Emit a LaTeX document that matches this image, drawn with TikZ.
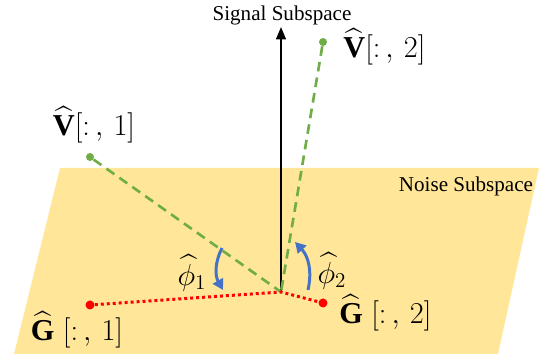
\documentclass[tikz,border=0pt]{standalone}
\usepackage{amsmath,amssymb}
\usepackage{fontspec}
\setmainfont{Liberation Serif}
\usepackage{tikz}
\usetikzlibrary{arrows.meta, positioning}

\definecolor{planeyellow}{HTML}{FFE699}
\definecolor{vgreen}{HTML}{70AD47}
\definecolor{angblue}{HTML}{4472C4}

\begin{document}
\begin{tikzpicture}[
    x=0.02cm, y=0.02cm,
    vdash/.style={vgreen, line width=1.5pt, dash pattern=on 5.5pt off 3.5pt},
    gdot/.style={red, line width=1.7pt, dash pattern=on 1.7pt off 1.7pt},
    angarr/.style={-{Triangle[length=6pt, width=6.5pt]}, angblue, line width=1.7pt},
    vpt/.style={circle, fill=vgreen, inner sep=0pt, minimum size=0.16cm},
    gpt/.style={circle, fill=red, inner sep=0pt, minimum size=0.18cm},
    lbl/.style={font=\LARGE, inner sep=0pt}
]
    \useasboundingbox (0,0) rectangle (539,354);

    % Noise subspace (plane)
    \fill[planeyellow] (60,186) -- (539,186) -- (498,0) -- (14,0) -- cycle;
    \node[font=\large] (noise) at (466,168) {Noise Subspace};

    % Origin and signal subspace
    \coordinate (o) at (281,62);
    \coordinate (sigtop) at (281,327);
    \draw[-{Triangle[length=7pt, width=5.5pt]}, line width=1.2pt] (o) -- (sigtop);
    \node[font=\large] (signal) at (282,339) {Signal Subspace};

    % Estimated signal vectors
    \node[vpt] (vone) at (90,197) {};
    \node[vpt] (vtwo) at (323,312) {};
    \draw[vdash] (vone) -- (o);
    \draw[vdash] (vtwo) -- (o);
    \node[lbl] (vonelbl) at (94,229) {$\widehat{\mathbf{V}}[{:}\,,\,1]$};
    \node[lbl, anchor=west] (vtwolbl) at (343,307) {$\widehat{\mathbf{V}}[{:}\,,\,2]$};

    % Projections onto noise subspace
    \node[gpt] (gone) at (90,49) {};
    \node[gpt] (gtwo) at (323,51) {};
    \draw[gdot] (gone) -- (o) -- (gtwo);
    \node[lbl] (gonelbl) at (77,24) {$\widehat{\mathbf{G}}\;[{:}\,,\,1]$};
    \node[lbl, anchor=west] (gtwolbl) at (339,41) {$\widehat{\mathbf{G}}\;[{:}\,,\,2]$};

    % Angles
    \coordinate (aones) at (222,106);
    \coordinate (aonee) at (223,64);
    \coordinate (atwos) at (308,64);
    \coordinate (atwoe) at (295,112);
    \draw[angarr] (aones) to[bend right=28] (aonee);
    \draw[angarr] (atwos) to[bend right=28] (atwoe);
    \node[lbl] (phione) at (192,81) {$\widehat{\phi}_1$};
    \node[lbl] (phitwo) at (332,83) {$\widehat{\phi}_2$};

\end{tikzpicture}
\end{document}
